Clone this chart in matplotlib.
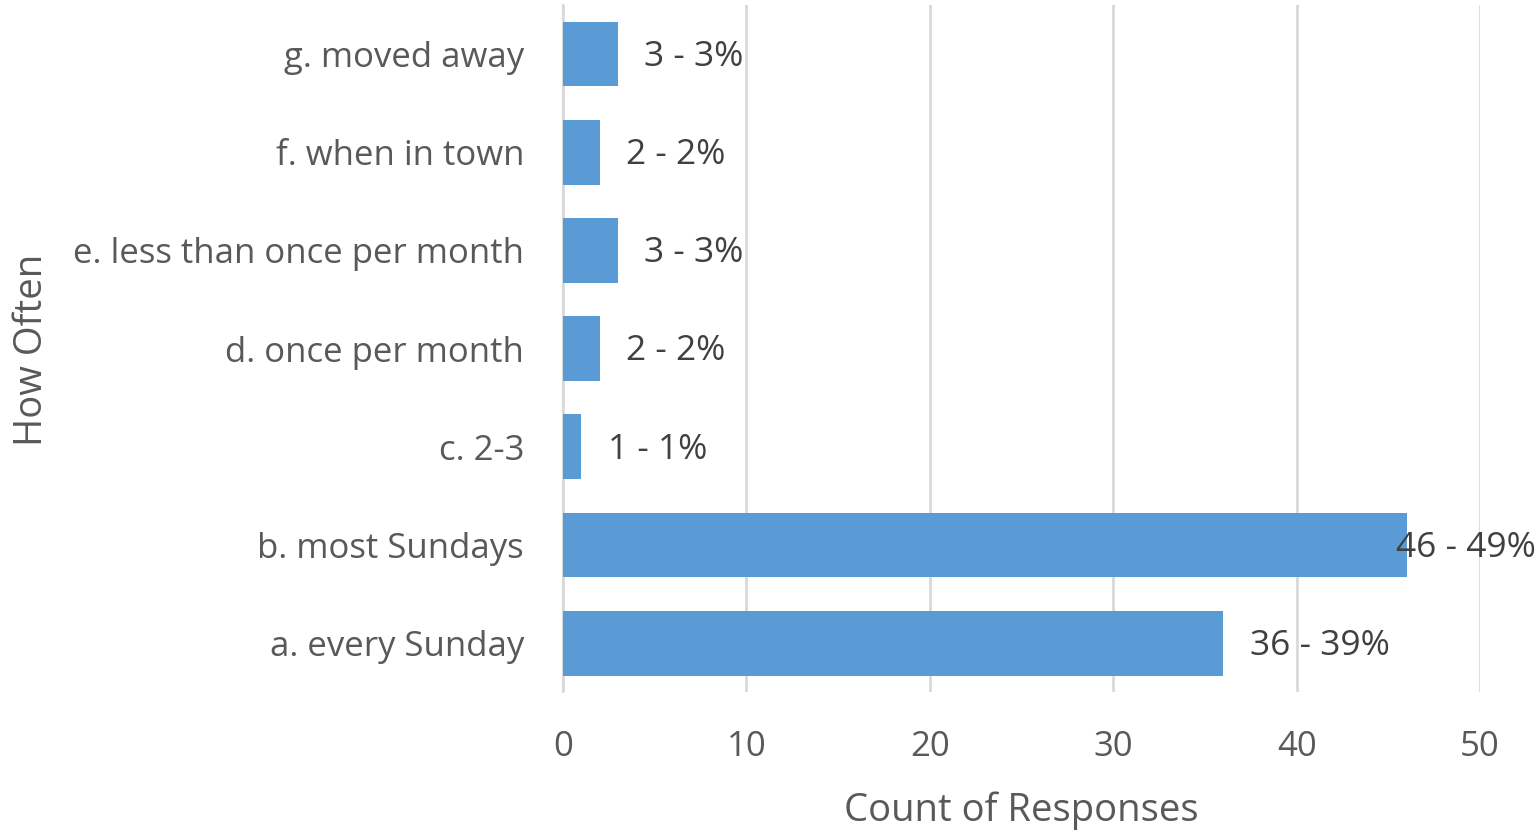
import matplotlib
matplotlib.use("Agg")
import matplotlib.pyplot as plt

# data
categories = ["a. every Sunday", "b. most Sundays", "c. 2-3", "d. once per month",
              "e. less than once per month", "f. when in town", "g. moved away"]
counts = [36, 46, 1, 2, 3, 2, 3]
percents = [39, 49, 1, 2, 3, 2, 3]

plt.rcParams['font.family'] = ['Open Sans', 'DejaVu Sans']

fig = plt.figure(figsize=(15.39, 8.32), dpi=100)
ax = fig.add_axes([0.3658, 0.168, 0.9617 - 0.3658, 0.826])

ypos = range(len(categories))
ax.barh(ypos, counts, height=0.66, color="#5B9BD5", zorder=3)

ax.set_xlim(0, 50)
ax.set_ylim(-0.5, len(categories) - 0.5)
ax.set_xticks([0, 10, 20, 30, 40, 50])
ax.set_yticks(list(ypos))
ax.set_yticklabels(categories)
ax.tick_params(axis="both", length=0, labelsize=25, colors="#595959")
ax.tick_params(axis="y", pad=28)
ax.tick_params(axis="x", pad=27)
ax.grid(axis="x", color="#D9D9D9", linewidth=2, zorder=0)
for s in ["top", "right", "bottom"]:
    ax.spines[s].set_visible(False)
ax.spines["left"].set_color("#D9D9D9")
ax.spines["left"].set_linewidth(1.5)

# data labels
xmax = ax.get_xlim()[1]
for i, (c, p) in enumerate(zip(counts, percents)):
    txt = f"{c} - {p}%"
    if c > xmax - 8:
        ax.annotate(txt, (xmax, i), xytext=(40, -2), textcoords="offset points",
                    ha="right", va="center", fontsize=25.5, color="#404040",
                    annotation_clip=False, zorder=4)
    else:
        ax.annotate(txt, (c, i), xytext=(19, -2), textcoords="offset points",
                    ha="left", va="center", fontsize=25.5, color="#404040",
                    annotation_clip=False, zorder=4)

ax.set_xlabel("Count of Responses", fontsize=27.5, color="#595959", labelpad=20)
fig.text(0.021, 0.58, "How Often", rotation=90, fontsize=27.5, color="#595959",
         ha="center", va="center")

fig.savefig("out.png", dpi=100)
